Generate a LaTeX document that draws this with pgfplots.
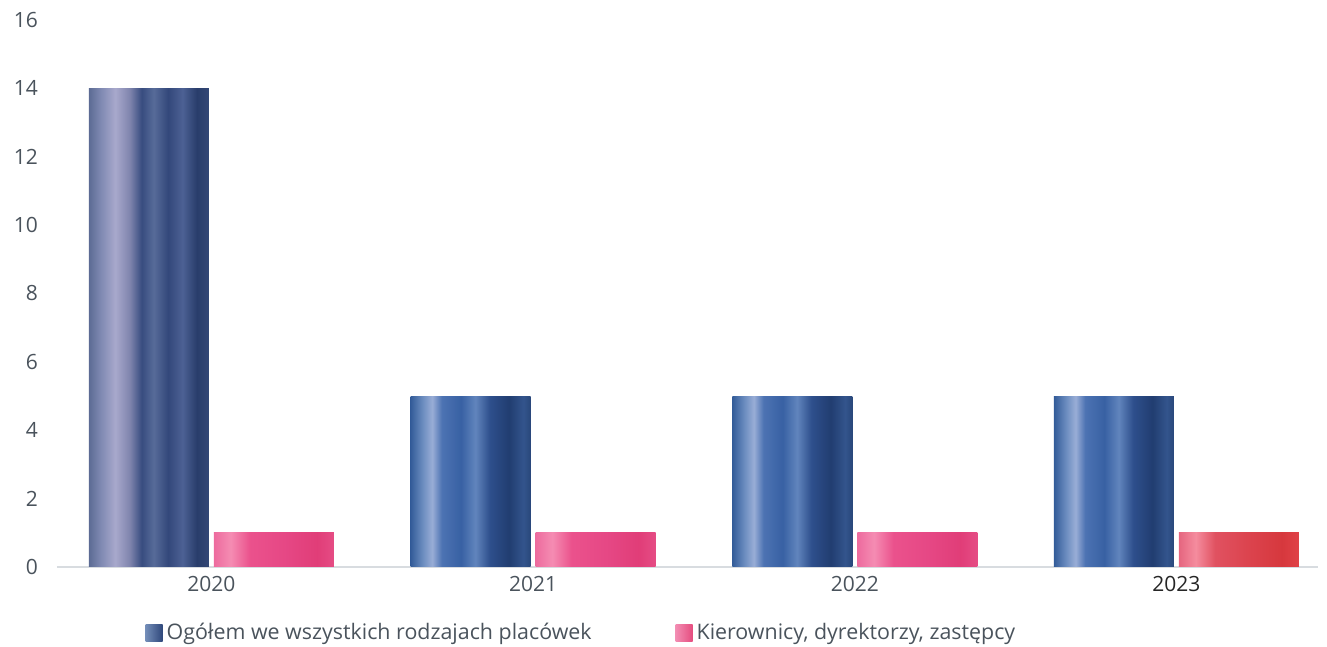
\documentclass[border=0pt]{standalone}
\usepackage{fontspec}
\setmainfont{Open Sans}
\usepackage{pgfplots}
\pgfplotsset{compat=1.18}
\definecolor{txt}{HTML}{4A535C}
\definecolor{axl}{HTML}{D8DCE0}
% blue (2021-2023)
\pgfdeclarehorizontalshading{blueB}{100bp}{%
 rgb(0bp)=(0.20,0.36,0.60); rgb(25bp)=(0.20,0.36,0.60);
 rgb(30bp)=(0.42,0.55,0.75); rgb(34bp)=(0.60,0.68,0.84);
 rgb(38bp)=(0.30,0.45,0.70); rgb(46bp)=(0.22,0.38,0.64);
 rgb(52bp)=(0.38,0.52,0.74); rgb(58bp)=(0.18,0.31,0.55);
 rgb(66bp)=(0.13,0.24,0.44); rgb(72bp)=(0.20,0.33,0.55);
 rgb(75bp)=(0.16,0.28,0.48); rgb(100bp)=(0.16,0.28,0.48)}
% blue-grey (2020)
\pgfdeclarehorizontalshading{blueA}{100bp}{%
 rgb(0bp)=(0.36,0.42,0.58); rgb(25bp)=(0.36,0.42,0.58);
 rgb(30bp)=(0.50,0.54,0.70); rgb(36bp)=(0.66,0.66,0.80);
 rgb(42bp)=(0.50,0.52,0.68); rgb(47bp)=(0.22,0.30,0.50);
 rgb(52bp)=(0.34,0.42,0.60); rgb(58bp)=(0.20,0.28,0.48);
 rgb(64bp)=(0.30,0.38,0.58); rgb(70bp)=(0.16,0.24,0.42);
 rgb(75bp)=(0.20,0.28,0.46); rgb(100bp)=(0.20,0.28,0.46)}
% pink
\pgfdeclarehorizontalshading{pinkA}{100bp}{%
 rgb(0bp)=(0.93,0.42,0.62); rgb(25bp)=(0.93,0.42,0.62);
 rgb(32bp)=(0.96,0.55,0.70); rgb(40bp)=(0.92,0.32,0.55);
 rgb(55bp)=(0.90,0.28,0.52); rgb(68bp)=(0.88,0.24,0.47);
 rgb(75bp)=(0.90,0.30,0.52); rgb(100bp)=(0.90,0.30,0.52)}
% red-pink (2023)
\pgfdeclarehorizontalshading{pinkB}{100bp}{%
 rgb(0bp)=(0.90,0.40,0.50); rgb(25bp)=(0.90,0.40,0.50);
 rgb(32bp)=(0.96,0.55,0.62); rgb(40bp)=(0.88,0.32,0.38);
 rgb(55bp)=(0.86,0.26,0.30); rgb(68bp)=(0.84,0.22,0.24);
 rgb(75bp)=(0.88,0.26,0.28); rgb(100bp)=(0.88,0.26,0.28)}
% legend squares
\pgfdeclarehorizontalshading{blueL}{100bp}{%
 rgb(0bp)=(0.45,0.55,0.72); rgb(25bp)=(0.45,0.55,0.72);
 rgb(75bp)=(0.18,0.28,0.48); rgb(100bp)=(0.18,0.28,0.48)}
\pgfdeclarehorizontalshading{pinkL}{100bp}{%
 rgb(0bp)=(0.95,0.55,0.70); rgb(25bp)=(0.95,0.55,0.70);
 rgb(75bp)=(0.90,0.30,0.50); rgb(100bp)=(0.90,0.30,0.50)}
\begin{document}
\begin{tikzpicture}
\useasboundingbox (0,0) rectangle (663.5pt,323.5pt);
\begin{axis}[
  at={(28.5pt,40pt)}, anchor=south west,
  scale only axis, width=630.5pt, height=273.5pt,
  ybar, bar width=60pt,
  xmin=-0.48, xmax=3.44, ymin=0, ymax=16,
  ytick={0,2,...,16},
  xtick={0,1,2,3},
  xticklabels={2020,2021,2022,\textcolor{black!85}{2023}},
  axis x line*=bottom, axis y line*=left,
  x axis line style={draw=axl, line width=0.8pt, -},
  y axis line style={draw=none},
  major tick length=0pt,
  tick label style={font=\fontsize{10.5}{12}\selectfont, text=txt},
  /pgf/number format/assume math mode=true,
  yticklabel style={xshift=-6pt},
  xticklabel style={yshift=-1pt},
  clip=false,
  legend columns=2,
  legend style={draw=none, fill=none, at={(0.4167,-0.1207)}, anchor=center,
    font=\fontsize{10.7}{12}\selectfont, text=txt,
    /tikz/every even column/.append style={column sep=40pt}},
]
\addplot[draw=none, shading=blueB, bar shift=-31.25pt,
  legend image code/.code={\path[shading=blueL] (0pt,-4.25pt) rectangle (8.5pt,4.25pt);}]
  coordinates {(1,5)};
\addlegendentry{Ogółem we wszystkich rodzajach placówek}
\addplot[draw=none, shading=pinkA, bar shift=31.25pt,
  legend image code/.code={\path[shading=pinkL] (0pt,-4.25pt) rectangle (8.5pt,4.25pt);}]
  coordinates {(0,1)};
\addlegendentry{Kierownicy, dyrektorzy, zastępcy}
\addplot[draw=none, shading=blueA, bar shift=-31.25pt, forget plot] coordinates {(0,14)};
\addplot[draw=none, shading=blueB, bar shift=-31.25pt, forget plot] coordinates {(2,5)};
\addplot[draw=none, shading=blueB, bar shift=-31.25pt, forget plot] coordinates {(3,5)};
\addplot[draw=none, shading=pinkA, bar shift=31.25pt, forget plot] coordinates {(1,1)};
\addplot[draw=none, shading=pinkA, bar shift=31.25pt, forget plot] coordinates {(2,1)};
\addplot[draw=none, shading=pinkB, bar shift=31.25pt, forget plot] coordinates {(3,1)};
\end{axis}
\end{tikzpicture}
\end{document}
